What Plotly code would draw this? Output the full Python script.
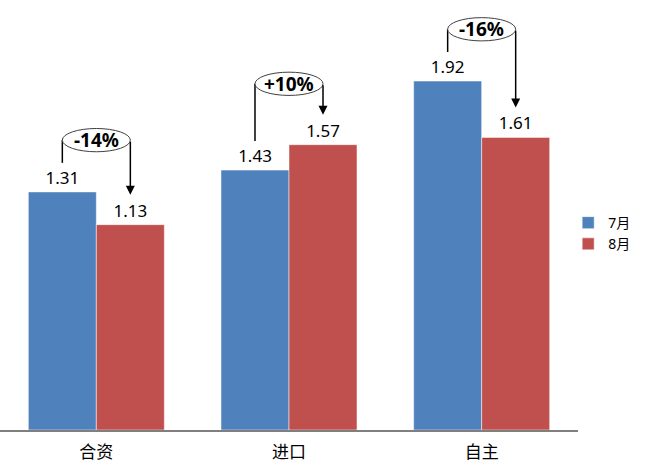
import plotly.graph_objects as go

categories = ["合资", "进口", "自主"]
jul = [1.31, 1.43, 1.92]
aug = [1.13, 1.57, 1.61]
series_names = ["7月", "8月"]
ellipse_offset = [0.285, 0.475, 0.285]  # height of bracket ellipse above the July bar

BLUE = "#4F81BD"
RED = "#C0504D"
FONT = "Noto Sans, Noto Sans CJK SC, sans-serif"

bargap = 0.294
half = (1 - bargap) / 4  # offset of each bar center from category center

fig = go.Figure()
fig.add_trace(go.Bar(x=categories, y=jul, name=series_names[0], marker_color=BLUE,
                     marker_line=dict(color="white", width=0.5),
                     text=[f"{v:.2f}" for v in jul], textposition="outside",
                     textfont=dict(size=17, color="black", family=FONT), cliponaxis=False))
fig.add_trace(go.Bar(x=categories, y=aug, name=series_names[1], marker_color=RED,
                     marker_line=dict(color="white", width=0.5),
                     text=[f"{v:.2f}" for v in aug], textposition="outside",
                     textfont=dict(size=17, color="black", family=FONT), cliponaxis=False))

shapes = []
annotations = []
for i, (a, b) in enumerate(zip(jul, aug)):
    xl = i - half
    xr = i + half
    ey = a + ellipse_offset[i]
    eh = 0.064
    shapes.append(dict(type="circle", xref="x", yref="y", x0=xl, x1=xr, y0=ey - eh, y1=ey + eh,
                       line=dict(color="#404040", width=1), fillcolor="white", layer="above"))
    shapes.append(dict(type="line", xref="x", yref="y", x0=xl, x1=xl, y0=ey, y1=a + 0.16,
                       line=dict(color="black", width=1.5), layer="below"))
    annotations.append(dict(x=xr, y=b + 0.165, ax=xr, ay=ey, xref="x", yref="y",
                            axref="x", ayref="y", showarrow=True, arrowhead=2,
                            arrowsize=1.2, arrowwidth=1.5, arrowcolor="black", text=""))
    pct = (b / a - 1) * 100
    label = f"{pct:+.0f}%"
    annotations.append(dict(x=i, y=ey, xref="x", yref="y", text=f"<b>{label}</b>",
                            showarrow=False, font=dict(size=19, color="black", family=FONT)))

fig.update_layout(
    width=654, height=468,
    margin=dict(l=0, r=76, t=12, b=38),
    plot_bgcolor="white", paper_bgcolor="white",
    barmode="group", bargap=bargap, bargroupgap=0,
    shapes=shapes, annotations=annotations,
    font=dict(family=FONT, color="black"),
    legend=dict(x=0.983, xanchor="left", y=0.47, yanchor="middle",
                font=dict(size=14, family=FONT), itemwidth=30, tracegroupgap=4),
    showlegend=True,
)
fig.update_xaxes(showline=True, linecolor="#7f7f7f", linewidth=1.5, showgrid=False,
                 ticks="", tickfont=dict(size=17, family=FONT), ticklabelstandoff=6)
fig.update_yaxes(range=[0, 2.3], visible=False, showgrid=False)

fig.write_html("out.html", config={"displayModeBar": False},
               post_script="document.body.style.margin='0';document.body.style.padding='0';")
